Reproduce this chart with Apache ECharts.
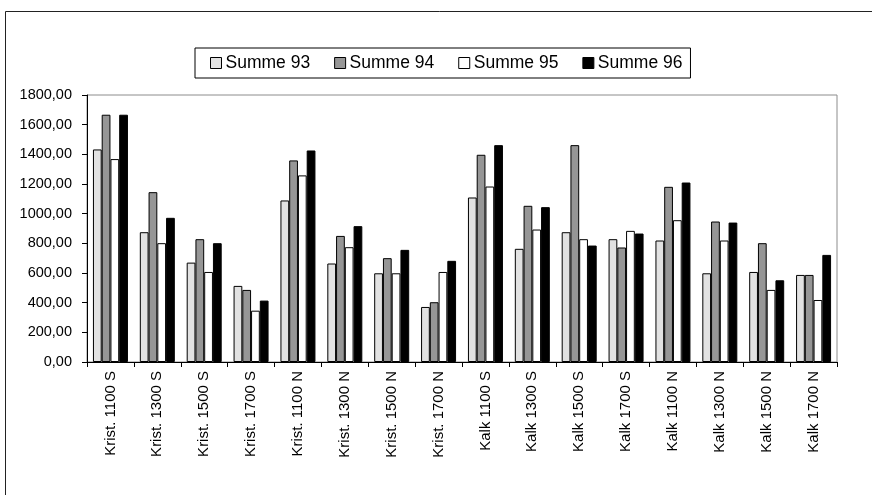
<!DOCTYPE html>
<html>
<head>
<meta charset="utf-8">
<script src="https://cdn.jsdelivr.net/npm/echarts@6/dist/echarts.min.js"></script>
<style>
  html, body { margin: 0; padding: 0; background: #fff; }
  #chart { width: 872px; height: 495px; }
</style>
</head>
<body>
<div id="chart"></div>
<script>
// Site categories along the x axis
const categories = [
  'Krist. 1100 S', 'Krist. 1300 S', 'Krist. 1500 S', 'Krist. 1700 S',
  'Krist. 1100 N', 'Krist. 1300 N', 'Krist. 1500 N', 'Krist. 1700 N',
  'Kalk 1100 S', 'Kalk 1300 S', 'Kalk 1500 S', 'Kalk 1700 S',
  'Kalk 1100 N', 'Kalk 1300 N', 'Kalk 1500 N', 'Kalk 1700 N'
];

// Yearly sums
const summe93 = [1433, 875, 670, 513, 1089, 664, 598, 371, 1109, 763, 875, 828, 819, 598, 607, 587];
const summe94 = [1667, 1145, 828, 486, 1359, 850, 700, 403, 1397, 1053, 1462, 772, 1181, 947, 801, 587];
const summe95 = [1368, 801, 607, 346, 1258, 774, 598, 607, 1183, 893, 828, 884, 956, 819, 486, 418];
const summe96 = [1667, 972, 801, 414, 1426, 916, 756, 682, 1462, 1044, 785, 866, 1210, 940, 551, 722];

const seriesNames = ['Summe 93', 'Summe 94', 'Summe 95', 'Summe 96'];
const seriesColors = ['#e2e2e2', '#969696', '#ffffff', '#000000'];
const seriesData = [summe93, summe94, summe95, summe96];

const FONT = '"Liberation Sans", Arial, sans-serif';

const chart = echarts.init(document.getElementById('chart'), null, { renderer: 'canvas' });

chart.setOption({
  animation: false,
  backgroundColor: '#ffffff',
  textStyle: { fontFamily: FONT },
  graphic: [{
    type: 'rect',
    shape: { x: 5.5, y: 11.5, width: 900, height: 500 },
    style: { fill: 'none', stroke: '#222', lineWidth: 1 },
    silent: true
  }],
  legend: {
    left: 195,
    top: 48,
    orient: 'horizontal',
    padding: [6, 8, 6, 15],
    borderColor: '#000',
    borderWidth: 1,
    itemWidth: 11,
    itemHeight: 11,
    itemGap: 24,
    icon: 'rect',
    itemStyle: { borderColor: '#000', borderWidth: 1 },
    textStyle: { fontFamily: FONT, fontSize: 17.5, color: '#000', padding: [0, 0, 0, -1] },
    data: seriesNames
  },
  grid: {
    left: 87,
    top: 95,
    width: 750,
    height: 267,
    show: true,
    borderColor: '#8c8c8c',
    borderWidth: 1,
    containLabel: false
  },
  xAxis: {
    type: 'category',
    data: categories,
    axisLine: { lineStyle: { color: '#000', width: 1 } },
    axisTick: { show: true, alignWithLabel: false, length: 5, inside: false, lineStyle: { color: '#000' } },
    axisLabel: { rotate: 90, fontSize: 15, color: '#000', fontFamily: FONT, margin: 9, interval: 0 },
    splitLine: { show: false }
  },
  yAxis: {
    type: 'value',
    min: 0,
    max: 1800,
    interval: 200,
    axisLine: { show: true, lineStyle: { color: '#000', width: 1 } },
    axisTick: { show: true, length: 5, lineStyle: { color: '#000' } },
    axisLabel: {
      fontSize: 14.5,
      color: '#000',
      fontFamily: FONT,
      margin: 15,
      formatter: v => v.toFixed(2).replace('.', ',')
    },
    splitLine: { show: false }
  },
  series: seriesNames.map((name, i) => ({
    name: name,
    type: 'bar',
    data: seriesData[i],
    barWidth: 8.75,
    barGap: '0%',
    itemStyle: { color: seriesColors[i], borderColor: '#000', borderWidth: 1 },
    emphasis: { disabled: true }
  }))
});
</script>
</body>
</html>
